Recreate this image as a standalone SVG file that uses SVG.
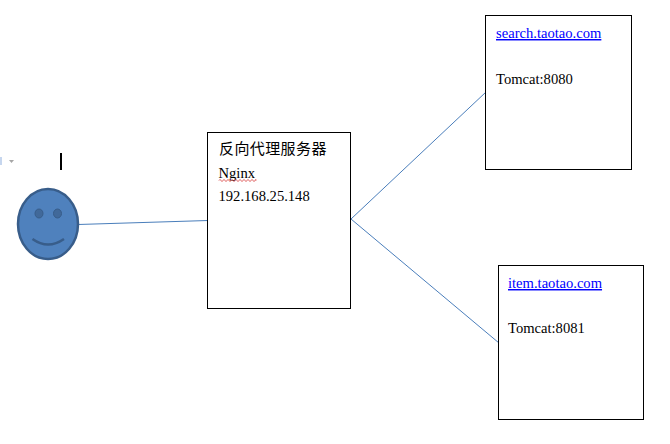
<svg xmlns="http://www.w3.org/2000/svg" width="670" height="444" viewBox="0 0 670 444">
<style>
.box{fill:#fff;stroke:#000;stroke-width:1}
.t{font-family:"Liberation Serif","Noto Sans CJK SC",serif;font-size:14.6px;fill:#000}
.l{font-family:"Liberation Serif",serif;font-size:14.6px;fill:#0000ff;text-decoration:underline}
.c{stroke:#4a7ebb;stroke-width:1;fill:none}
</style>
<rect width="670" height="444" fill="#fff"/>
<g id="cursor"><rect x="60" y="153" width="2" height="17" fill="#000"/></g>
<g id="ruler-mark"><rect x="0" y="157" width="2" height="8" fill="#c6d6ee"/><path d="M9 160h5l-2.500 3z" fill="#a6a6a6"/></g>
<g id="connectors">
<path class="c" d="M78 224.500L208 220.500"/>
<path class="c" d="M351 219L486 92"/>
<path class="c" d="M351 219L499 343"/>
</g>
<g id="user">
<ellipse cx="48" cy="224" rx="30" ry="35" fill="#4f81bd" stroke="#385d8a" stroke-width="2.500"/>
<ellipse cx="39" cy="213.500" rx="4" ry="4.500" fill="#41699a" stroke="#385d8a"/>
<ellipse cx="57.500" cy="213.500" rx="4" ry="4.500" fill="#41699a" stroke="#385d8a"/>
<path d="M32.500 239Q48 250 64 239" fill="none" stroke="#385d8a" stroke-width="2.500"/>
</g>
<g id="proxy">
<rect class="box" x="207.500" y="132.500" width="143" height="176"/>
<text class="t" x="219" y="154" style="font-family:'Noto Sans CJK SC',sans-serif;font-size:15px;letter-spacing:.4px">反向代理服务器</text>
<text class="t" x="218.500" y="178">Nginx</text>
<path d="M219 180.500q1-2 2 0t2 0t2 0t2 0t2 0t2 0t2 0t2 0t2 0t2 0t2 0t2 0t2 0t2 0t2 0t2 0t2 0t2 0t1 0" fill="none" stroke="#d02020" stroke-width=".8"/>
<text class="t" x="218.500" y="201">192.168.25.148</text>
</g>
<g id="search">
<rect class="box" x="485.500" y="15.500" width="146" height="154"/>
<text class="l" x="496" y="38">search.taotao.com</text>
<text class="t" x="496" y="84">Tomcat:8080</text>
</g>
<g id="item">
<rect class="box" x="498.500" y="265.500" width="145" height="154"/>
<text class="l" x="508" y="288">item.taotao.com</text>
<text class="t" x="508" y="333">Tomcat:8081</text>
</g>
</svg>
